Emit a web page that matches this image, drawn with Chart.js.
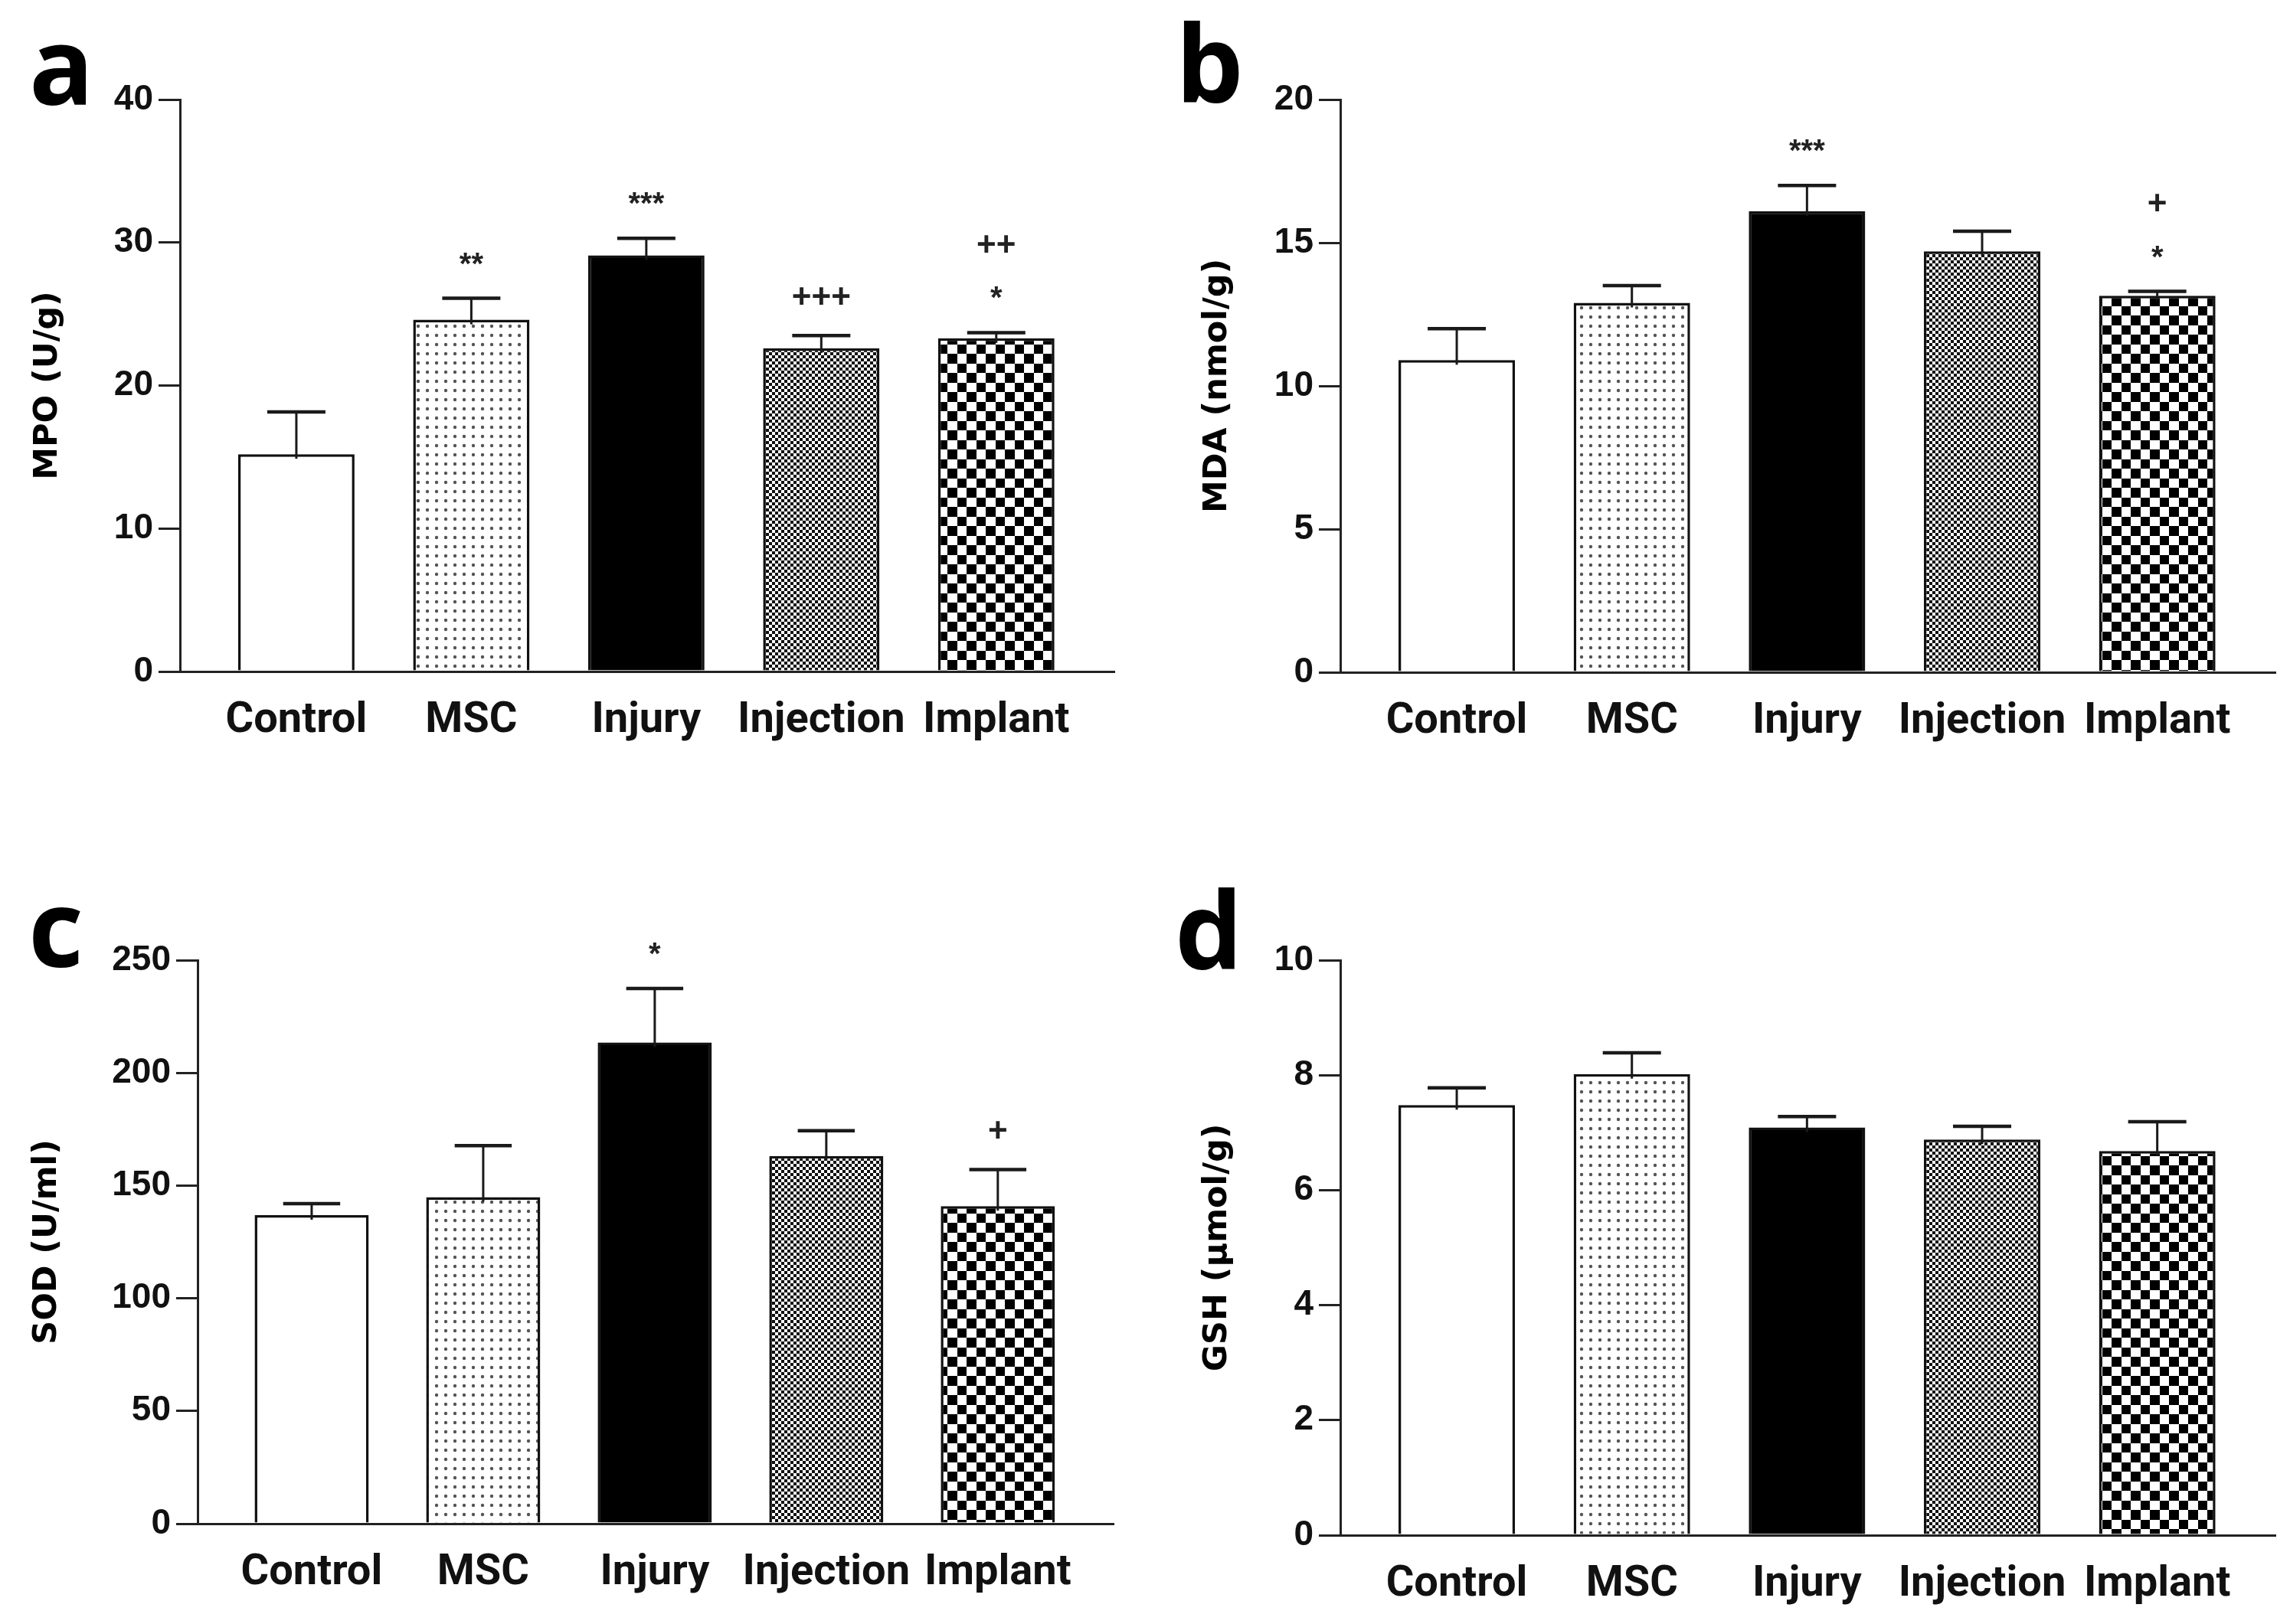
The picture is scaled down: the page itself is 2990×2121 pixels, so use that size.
<!DOCTYPE html>
<html><head><meta charset="utf-8">
<script src="https://cdn.jsdelivr.net/npm/chart.js@4.4.1/dist/chart.umd.min.js"></script>
<style>
html,body{margin:0;padding:0;background:#fff;width:2990px;height:2121px;overflow:hidden;}
canvas{position:absolute;}
</style></head><body>
<canvas id="pa" width="1495" height="1060" style="left:0;top:0"></canvas>
<canvas id="pb" width="1495" height="1060" style="left:1495px;top:0"></canvas>
<canvas id="pc" width="1495" height="1061" style="left:0;top:1060px"></canvas>
<canvas id="pd" width="1495" height="1061" style="left:1495px;top:1060px"></canvas>
<script>
// ---- data ----
const categories = ['Control', 'MSC', 'Injury', 'Injection', 'Implant'];

const mpoMean = [15.2, 24.6, 29.1, 22.6, 23.3];
const mpoSem  = [2.95, 1.5, 1.2, 0.9, 0.4];
const mpoMarks = [[], ['**'], ['***'], ['+++'], ['*', '++']];
const mpoTicks = [0, 10, 20, 30, 40];

const mdaMean = [10.9, 12.9, 16.1, 14.7, 13.15];
const mdaSem  = [1.1, 0.6, 0.9, 0.7, 0.15];
const mdaMarks = [[], [], ['***'], [], ['*', '+']];
const mdaTicks = [0, 5, 10, 15, 20];

const sodMean = [136.9, 144.9, 213.5, 163.1, 140.9];
const sodSem  = [5.1, 22.8, 23.9, 11.2, 16.2];
const sodMarks = [[], [], ['*'], [], ['+']];
const sodTicks = [0, 50, 100, 150, 200, 250];

const gshMean = [7.48, 8.02, 7.09, 6.88, 6.68];
const gshSem  = [0.3, 0.37, 0.19, 0.23, 0.51];
const gshMarks = [[], [], [], [], []];
const gshTicks = [0, 2, 4, 6, 8, 10];

// ---- fill patterns ----
function makePattern(kind) {
  const c = document.createElement('canvas');
  let ctx;
  if (kind === 'dots') {
    c.width = 12; c.height = 12; ctx = c.getContext('2d');
    ctx.fillStyle = '#fff'; ctx.fillRect(0, 0, 12, 12);
    ctx.fillStyle = '#555'; ctx.beginPath(); ctx.arc(6, 6, 2.2, 0, Math.PI * 2); ctx.fill();
  } else if (kind === 'fine') {
    c.width = 8; c.height = 8; ctx = c.getContext('2d');
    ctx.fillStyle = '#fff'; ctx.fillRect(0, 0, 8, 8);
    ctx.fillStyle = '#111'; ctx.fillRect(0, 0, 4, 4); ctx.fillRect(4, 4, 4, 4);
  } else {
    c.width = 25; c.height = 25; ctx = c.getContext('2d');
    ctx.fillStyle = '#fff'; ctx.fillRect(0, 0, 25, 25);
    ctx.fillStyle = '#000'; ctx.fillRect(0, 0, 12, 12); ctx.fillRect(12, 12, 13, 13);
  }
  return ctx.createPattern(c, 'repeat');
}
const fills = ['#ffffff', makePattern('dots'), '#000000', makePattern('fine'), makePattern('coarse')];

const TICK_FONT = '"Liberation Sans", Arial, sans-serif';
const CAT_FONT = 'Roboto, "Liberation Sans", sans-serif';
const TITLE_FONT = '"DejaVu Sans", "Open Sans", sans-serif';
const LETTER_FONT = '"Open Sans", "Noto Sans", sans-serif';

function errPlugin(sems, marks) {
  return {
    id: 'errbars',
    afterDatasetsDraw(chart) {
      const meta = chart.getDatasetMeta(0);
      const ys = chart.scales.y;
      const ctx = chart.ctx;
      const data = chart.data.datasets[0].data;
      meta.data.forEach((bar, i) => {
        const v = data[i].y;
        const top = ys.getPixelForValue(v);
        const cap = ys.getPixelForValue(v + sems[i]);
        const half = bar.width / 4;
        ctx.save();
        ctx.strokeStyle = '#1a1a1a';
        ctx.lineWidth = 3;
        ctx.beginPath(); ctx.moveTo(bar.x, top + 6); ctx.lineTo(bar.x, cap); ctx.stroke();
        ctx.lineWidth = 4.5;
        ctx.beginPath(); ctx.moveTo(bar.x - half, cap); ctx.lineTo(bar.x + half, cap); ctx.stroke();
        // significance marks
        ctx.fillStyle = '#222';
        ctx.textAlign = 'center';
        ctx.textBaseline = 'alphabetic';
        marks[i].forEach((m, k) => {
          const isStar = m.indexOf('*') >= 0;
          ctx.font = isStar ? 'bold 40px ' + TICK_FONT : 'bold 44px ' + TICK_FONT;
          const tm = ctx.measureText(m);
          const centre = cap - 52 - k * 64;
          const base = centre + (tm.actualBoundingBoxAscent - tm.actualBoundingBoxDescent) / 2;
          ctx.fillText(m, bar.x, base);
        });
        ctx.restore();
      });
    }
  };
}

function letterPlugin(letter, x, y) {
  return {
    id: 'panelLetter',
    afterDraw(chart) {
      const ctx = chart.ctx;
      ctx.save();
      ctx.fillStyle = '#000';
      ctx.font = 'bold 140px ' + LETTER_FONT;
      ctx.textAlign = 'left';
      ctx.textBaseline = 'alphabetic';
      ctx.fillText(letter, x, y);
      ctx.restore();
    }
  };
}

function buildChart(id, p) {
  const data = p.means.map((v, i) => ({ x: i, y: v }));
  return new Chart(document.getElementById(id), {
    type: 'bar',
    data: {
      datasets: [{
        data: data,
        backgroundColor: fills,
        borderColor: '#111',
        borderWidth: 3.5,
        borderSkipped: 'start',
        categoryPercentage: 1,
        barPercentage: 0.665
      }]
    },
    options: {
      responsive: false,
      animation: false,
      events: [],
      layout: { padding: { left: 0, top: p.padT, right: p.padR, bottom: p.padB } },
      plugins: { legend: { display: false }, tooltip: { enabled: false } },
      scales: {
        x: {
          type: 'linear',
          min: -0.665,
          max: 4.675,
          offset: false,
          bounds: 'data',
          afterBuildTicks: (s) => { s.ticks = categories.map((c, i) => ({ value: i })); },
          grid: { display: false, drawTicks: false },
          border: { display: true, color: '#222', width: 3 },
          ticks: {
            autoSkip: false,
            maxRotation: 0,
            padding: 31,
            color: '#111',
            font: { family: CAT_FONT, size: 56, weight: 'bold' },
            callback: (v) => (categories[v] !== undefined) ? categories[v] : ''
          },
          afterFit: (s) => { s.height = p.xH; }
        },
        y: {
          min: p.ticks[0],
          max: p.ticks[p.ticks.length - 1],
          grid: { drawOnChartArea: false, drawTicks: true, tickLength: 28, lineWidth: 3, color: '#222' },
          border: { display: true, color: '#222', width: 3 },
          ticks: {
            stepSize: p.ticks[1] - p.ticks[0],
            padding: 7,
            color: '#111',
            font: { family: TICK_FONT, size: 46, weight: 'bold' }
          },
          title: {
            display: true,
            text: p.title,
            color: '#000',
            padding: { top: p.titlePad, bottom: 0 },
            font: { family: TITLE_FONT, size: 43, weight: 'bold' }
          },
          afterFit: (s) => { s.width = p.yW; }
        }
      }
    },
    plugins: [errPlugin(p.sems, p.marks), letterPlugin(p.letter, p.lx, p.ly)]
  });
}

buildChart('pa', { means: mpoMean, sems: mpoSem, marks: mpoMarks, ticks: mpoTicks, title: 'MPO (U/g)',
  letter: 'a', lx: 38, ly: 137, yW: 235, titlePad: 37, padT: 130, padR: 40, padB: 73, xH: 110 });
buildChart('pb', { means: mdaMean, sems: mdaSem, marks: mdaMarks, ticks: mdaTicks, title: 'MDA (nmol/g)',
  letter: 'b', lx: 40, ly: 134, yW: 255, titlePad: 69, padT: 130, padR: 19, padB: 72, xH: 110 });
buildChart('pc', { means: sodMean, sems: sodSem, marks: sodMarks, ticks: sodTicks, title: 'SOD (U/ml)',
  letter: 'c', lx: 37, ly: 203, yW: 258, titlePad: 36, padT: 194, padR: 41, padB: 21, xH: 110 });
buildChart('pd', { means: gshMean, sems: gshSem, marks: gshMarks, ticks: gshTicks, title: 'GSH (μmol/g)',
  letter: 'd', lx: 39, ly: 206, yW: 255, titlePad: 69, padT: 194, padR: 19, padB: 6, xH: 110 });
</script>
</body></html>
